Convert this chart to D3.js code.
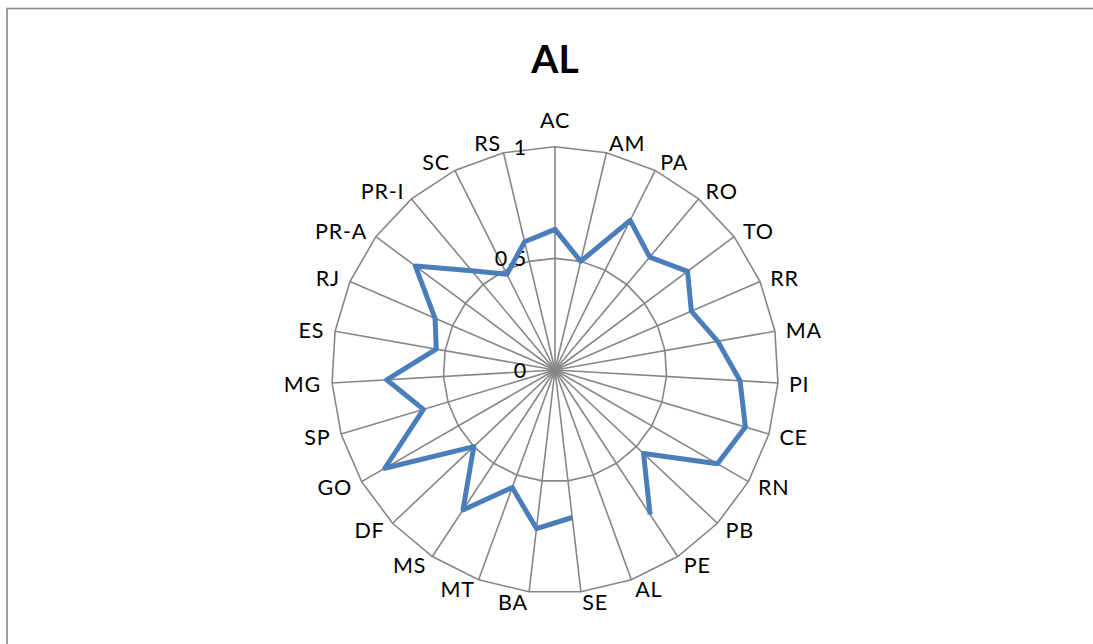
<!DOCTYPE html>
<html>
<head>
<meta charset="utf-8">
<script src="https://cdn.jsdelivr.net/npm/d3@7"></script>
<style>
  html, body { margin: 0; padding: 0; background: #fff; }
  svg { display: block; }
  text { font-family: Lato, "Open Sans", sans-serif; fill: #000; }
</style>
</head>
<body>
<svg id="chart" width="1093" height="644"></svg>
<script>
// Chart content
const title = "AL";
const categories = ["AC", "AM", "PA", "RO", "TO", "RR", "MA", "PI", "CE", "RN", "PB", "PE", "AL",
  "SE", "BA", "MT", "MS", "DF", "GO", "SP", "MG", "ES", "RJ", "PR-A", "PR-I", "SC", "RS"];
const values = [0.63, 0.50, 0.75, 0.66, 0.74, 0.665, 0.74, 0.83, 0.89, 0.84, 0.545, 0.775, null,
  0.665, 0.715, 0.56, 0.75, 0.50, 0.88, 0.615, 0.755, 0.54, 0.585, 0.78, 0.58, 0.48, 0.59];
const gridLevels = [0.5, 1];
const tickValues = [0, 0.5, 1];
const tickLabels = ["0", "0,5", "1"];

const svg = d3.select("#chart");
const cx = 555, cy = 370, R = 223.3;
const fs = 21.5;

// Chart area frame
svg.append("rect")
  .attr("x", 7).attr("y", 8.5)
  .attr("width", 1200).attr("height", 800)
  .attr("fill", "none")
  .attr("stroke", "#878787")
  .attr("stroke-width", 1.6);

// Title
svg.append("text")
  .attr("x", cx).attr("y", 73)
  .attr("text-anchor", "middle")
  .attr("font-size", 39)
  .attr("font-weight", "bold")
  .text(title);

const angle = d3.scaleBand()
  .domain(categories)
  .range([0, 2 * Math.PI])
  .align(0).paddingInner(0).paddingOuter(0);
const r = d3.scaleLinear().domain([0, 1]).range([0, R]);

const g = svg.append("g").attr("transform", `translate(${cx},${cy})`);
const pt = (cat, v) => {
  const a = angle(cat);
  return [r(v) * Math.sin(a), -r(v) * Math.cos(a)];
};

// Polygon gridlines
gridLevels.forEach(lv => {
  g.append("path")
    .attr("d", d3.line()(categories.map(c => pt(c, lv))) + "Z")
    .attr("fill", "none")
    .attr("stroke", "#868686")
    .attr("stroke-width", 1.6);
});

// Spokes
g.selectAll("line.spoke")
  .data(categories)
  .join("line")
  .attr("class", "spoke")
  .attr("x1", 0).attr("y1", 0)
  .attr("x2", d => pt(d, 1)[0])
  .attr("y2", d => pt(d, 1)[1])
  .attr("stroke", "#868686")
  .attr("stroke-width", 1.6);

// Value axis labels
g.selectAll("text.tick")
  .data(tickValues)
  .join("text")
  .attr("class", "tick")
  .attr("x", -28)
  .attr("y", d => -r(d) + 8)
  .attr("text-anchor", "end")
  .attr("font-size", fs)
  .attr("letter-spacing", 0.8)
  .text((d, i) => tickLabels[i]);

// Category labels
g.selectAll("text.cat")
  .data(categories)
  .join("text")
  .attr("class", "cat")
  .attr("font-size", fs)
  .attr("letter-spacing", 0.8)
  .each(function(d) {
    const a = angle(d);
    const s = Math.sin(a), c = Math.cos(a);
    const tip = pt(d, 1);
    let anchor, x, yc;
    if (Math.abs(s) < 0.05) {
      anchor = "middle";
      x = tip[0];
      yc = tip[1] - c * 27;
    } else {
      anchor = s > 0 ? "start" : "end";
      x = tip[0] + 11 * s;
      yc = tip[1] - c * 10;
    }
    d3.select(this)
      .attr("text-anchor", anchor)
      .attr("x", x)
      .attr("y", yc + 8)
      .text(d);
  });

// Series line: start right after a missing value so the gap stays open
const n = categories.length;
const gapIdx = values.findIndex(v => v == null);
const order = d3.range(n).map(i => (i + (gapIdx >= 0 ? gapIdx + 1 : 0)) % n);
const seriesPts = order.map(i => ({ cat: categories[i], v: values[i] }));
const lineGen = d3.line()
  .defined(d => d.v != null)
  .x(d => pt(d.cat, d.v)[0])
  .y(d => pt(d.cat, d.v)[1]);
g.append("path")
  .attr("d", lineGen(seriesPts) + (gapIdx >= 0 ? "" : "Z"))
  .attr("fill", "none")
  .attr("stroke", "#4A7EBB")
  .attr("stroke-width", 5)
  .attr("stroke-linejoin", "round")
  .attr("stroke-linecap", "butt");
</script>
</body>
</html>
